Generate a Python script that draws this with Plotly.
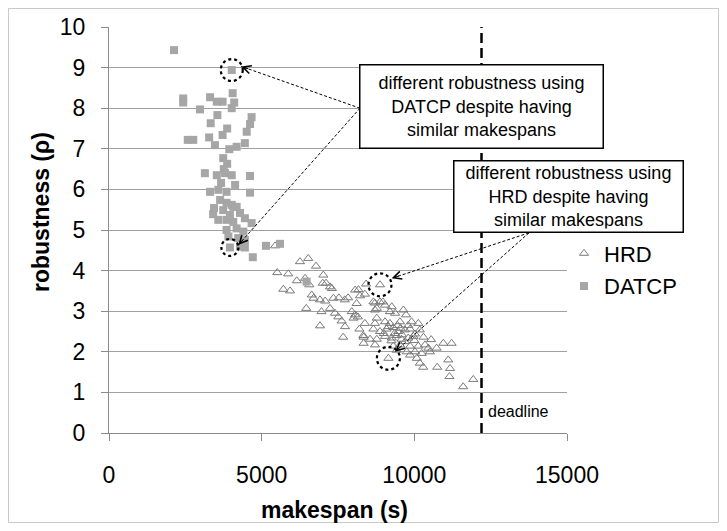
import plotly.graph_objects as go

# ---------------- data ----------------
hrd_x = [5440, 5510, 5870, 6255, 6525, 6780, 6150, 6420, 6560, 7020, 7110, 7000, 5710, 5930,
         6640, 6700, 6910, 7080, 7240, 7300, 7350, 7530, 7720, 7830, 8060, 8170, 8420, 8380,
         8110, 6460, 6960, 7240, 7400, 7510, 7950, 8060, 8010, 8150, 6910, 7620, 7730, 7670,
         8200, 8340, 8340, 8660, 8710, 8770, 8875, 8220, 8710, 8875, 8970, 9040, 9260, 8770,
         9200, 9640, 9370, 9730,
         8380, 8710, 9040, 9200, 9530, 9910, 10130,
         8660, 8875, 9090, 9310, 9470, 9690, 9860, 10020, 10180,
         8330, 8550, 8770, 9040, 9260, 9420, 9580, 9800, 9970,
         8710, 9310, 9530, 9860, 10130, 10350, 10460, 10730, 10950, 11220,
         9420, 9750, 10020, 10240, 10510,
         9150, 9350, 9450, 9600, 9250, 9700, 9000, 9550, 9800, 10000, 10300, 10550,
         9150, 9860, 10080, 10180, 10290, 10750, 11110, 11170, 11150, 11600, 11930]
hrd_y = [4.61, 3.95, 3.92, 4.22, 4.30, 4.11, 3.75, 3.81, 3.65, 3.89, 3.69, 3.69, 3.54, 3.50,
         3.40, 3.32, 3.28, 3.25, 3.60, 3.56, 3.32, 3.33, 3.28, 3.33, 3.52, 3.53, 3.67, 3.42,
         3.19, 3.07, 2.99, 3.07, 2.95, 2.86, 2.99, 2.91, 2.83, 2.86, 2.64, 2.76, 2.62, 2.36,
         2.56, 2.36, 2.21, 3.23, 3.03, 2.83, 3.65, 3.38, 3.20, 3.23, 3.23, 3.15, 3.11, 3.07,
         2.99, 3.03, 2.95, 2.91,
         2.70, 2.70, 2.74, 2.70, 2.74, 2.74, 2.70,
         2.56, 2.50, 2.56, 2.60, 2.50, 2.54, 2.56, 2.44, 2.54,
         2.40, 2.31, 2.31, 2.38, 2.34, 2.40, 2.31, 2.34, 2.38,
         2.17, 2.14, 2.17, 2.14, 2.14, 2.17, 2.09, 2.09, 2.21, 2.21,
         2.04, 2.00, 2.00, 1.96, 2.00,
         2.62, 2.45, 2.65, 2.42, 2.27, 2.25, 2.45, 2.58, 2.65, 2.28, 2.36, 2.30,
         1.84, 1.92, 1.84, 1.72, 1.62, 1.62, 1.80, 1.59, 1.39, 1.14, 1.32]

datcp_x = [2130, 4020, 2430, 2430, 3310, 3530, 3720, 4050, 4100, 4020, 2980, 3550, 3330, 3870,
           3720, 3280, 2580, 2760, 3470, 3940, 4180, 4450, 4670, 4620, 4510, 3740, 3870, 3760,
           3140, 3530, 3800, 4020, 4620, 3310, 3580, 3850, 4620, 3640, 3850, 4020, 3740, 4070,
           4180, 3580, 3850, 4070, 4450, 4670, 3850, 4180, 4400, 3910, 4230, 4450, 3960, 4290,
           4450, 4710, 5140, 5600, 6470, 3410, 3960, 4290, 3670, 4130, 3440]
datcp_y = [9.43, 8.94, 8.24, 8.14, 8.27, 8.16, 8.16, 8.37, 8.14, 8.00, 7.97, 7.83, 7.63, 7.50,
           7.34, 7.28, 7.22, 7.22, 7.09, 6.99, 7.05, 7.14, 7.78, 7.61, 7.42, 6.77, 6.63, 6.50,
           6.40, 6.35, 6.40, 6.35, 6.33, 5.94, 5.99, 5.94, 5.92, 5.74, 5.67, 5.62, 5.49, 5.57,
           5.57, 5.25, 5.25, 5.20, 5.29, 5.17, 5.00, 5.04, 4.96, 4.84, 4.80, 4.75, 4.57, 4.59,
           4.57, 4.33, 4.61, 4.66, 3.73, 5.39, 5.37, 5.42, 6.16, 6.11, 5.54]

x_ticks = [0, 5000, 10000, 15000]
y_ticks = [0, 1, 2, 3, 4, 5, 6, 7, 8, 9, 10]
deadline = 12200

# highlighted points (index into series)
datcp_hi = [1, 54]
hrd_hi = [48, 112]

box1_text = "different robustness using<br>DATCP despite having<br>similar makespans"
box2_text = "different robustness using<br>HRD despite having<br>similar makespans"
x_title = "<b>makespan (s)</b>"
y_title = "<b>robustness (ρ)</b>"

FONT = "Liberation Sans, Arial, sans-serif"

# ---------------- layout geometry (figure pixels) ----------------
W, H = 711, 515
ML, MR, MT, MB = 101, 152, 19, 90
PW, PH = W - ML - MR, H - MT - MB
XR, YR = [0, 15000], [0, 10]
kx, ky = PW / (XR[1] - XR[0]), PH / (YR[1] - YR[0])  # px per data unit


def px(xp):
    return (xp - ML) / PW


def py(yp):
    return (H - MB - yp) / PH


fig = go.Figure()
fig.add_trace(go.Scatter(
    x=hrd_x, y=hrd_y, mode="markers", name="HRD", legendgroup="a",
    marker=dict(symbol="triangle-up-open", size=8, color="#7a7a7a", line=dict(width=1, color="#7a7a7a")),
))
fig.add_trace(go.Scatter(
    x=datcp_x, y=datcp_y, mode="markers", name="DATCP", legendgroup="b",
    marker=dict(symbol="square", size=8, color="#a6a6a6", line=dict(width=0)),
))

shapes = []
# outer frame
shapes.append(dict(type="rect", xref="paper", yref="paper",
                   x0=px(0.5), x1=px(W - 0.5), y0=py(H - 0.5), y1=py(0.5),
                   line=dict(color="#c8c8c8", width=1), layer="below"))
# deadline
shapes.append(dict(type="line", xref="x", yref="paper", x0=deadline, x1=deadline, y0=0, y1=1,
                   line=dict(color="black", width=2.5, dash="10px,5px")))

# dotted circles
circ = [(datcp_x[datcp_hi[0]], datcp_y[datcp_hi[0]], 11),
        (datcp_x[datcp_hi[1]], datcp_y[datcp_hi[1]], 8.5),
        (hrd_x[hrd_hi[0]], hrd_y[hrd_hi[0]], 11.5),
        (hrd_x[hrd_hi[1]], hrd_y[hrd_hi[1]], 11.5)]
for cx, cy, r in circ:
    shapes.append(dict(type="circle", xref="x", yref="y", xsizemode="pixel", ysizemode="pixel",
                       xanchor=cx, yanchor=cy, x0=-r, x1=r, y0=-r, y1=r,
                       line=dict(color="black", width=2.2, dash="dot")))

annotations = []
# arrows: tail (data) -> head (data)
tail1 = (8220, 8.0)
tail2 = (13755, 4.93)
arrows = [(tail1, (4330, 9.03)), (tail1, (4235, 4.63)),
          (tail2, (9258, 3.81)), (tail2, (9367, 2.0))]
for (tx, ty), (hx, hy) in arrows:
    shapes.append(dict(type="line", xref="x", yref="y", x0=tx, y0=ty, x1=hx, y1=hy,
                       line=dict(color="black", width=1, dash="3px,2px")))
    dxp, dyp = (tx - hx) * kx, -(ty - hy) * ky
    L = (dxp ** 2 + dyp ** 2) ** 0.5
    annotations.append(dict(x=hx, y=hy, xref="x", yref="y", text="", showarrow=True,
                            ax=dxp / L * 9, ay=dyp / L * 9, arrowhead=5, arrowsize=1.6,
                            arrowwidth=1, arrowcolor="black"))

# text boxes
annotations.append(dict(text=box1_text, xref="paper", yref="paper",
                        x=px(473.5), y=py(99), xanchor="center", yanchor="middle",
                        showarrow=False, bgcolor="white", bordercolor="black", borderwidth=1.5,
                        borderpad=3, width=236, height=76, align="center",
                        font=dict(family=FONT, size=18, color="black")))
annotations.append(dict(text=box2_text, xref="paper", yref="paper",
                        x=px(560), y=py(188.5), xanchor="center", yanchor="middle",
                        showarrow=False, bgcolor="white", bordercolor="black", borderwidth=1.5,
                        borderpad=3, width=222, height=64, align="center",
                        font=dict(family=FONT, size=18, color="black")))
annotations.append(dict(text="deadline", xref="x", yref="paper", x=deadline, y=py(403),
                        xanchor="left", yanchor="middle", xshift=4, showarrow=False,
                        font=dict(family=FONT, size=16, color="black")))
# axis titles
annotations.append(dict(text=x_title, xref="paper", yref="paper", x=px(326), y=py(502),
                        xanchor="center", yanchor="middle", showarrow=False,
                        font=dict(family=FONT, size=23, color="black")))
annotations.append(dict(text=y_title, xref="paper", yref="paper", x=px(33), y=py(204),
                        xanchor="center", yanchor="middle", showarrow=False, textangle=-90,
                        font=dict(family=FONT, size=23, color="black")))

fig.update_layout(
    width=W, height=H, margin=dict(l=ML, r=MR, t=MT, b=MB, autoexpand=False),
    paper_bgcolor="white", plot_bgcolor="white",
    font=dict(family=FONT, color="black"),
    shapes=shapes, annotations=annotations,
    legend=dict(x=px(556), y=py(262), xanchor="left", yanchor="middle",
                font=dict(family=FONT, size=22, color="black"), traceorder="grouped",
                tracegroupgap=1, bgcolor="rgba(0,0,0,0)", itemwidth=30),
    showlegend=True,
)
fig.update_xaxes(range=XR, tickvals=x_ticks, ticktext=[str(v) for v in x_ticks],
                 showgrid=False, zeroline=False, showline=True, linecolor="#8a8a8a", linewidth=1,
                 ticks="outside", ticklen=7, tickcolor="#8a8a8a", ticklabelstandoff=14,
                 tickfont=dict(family=FONT, size=23, color="black"))
fig.update_yaxes(range=YR, tickvals=y_ticks, showgrid=True, gridcolor="#a0a0a0", gridwidth=1,
                 zeroline=False, showline=True, linecolor="#8a8a8a", linewidth=1,
                 ticks="outside", ticklen=7, tickcolor="#8a8a8a", ticklabelstandoff=11,
                 tickfont=dict(family=FONT, size=23, color="black"))

fig.write_html("out.html")
